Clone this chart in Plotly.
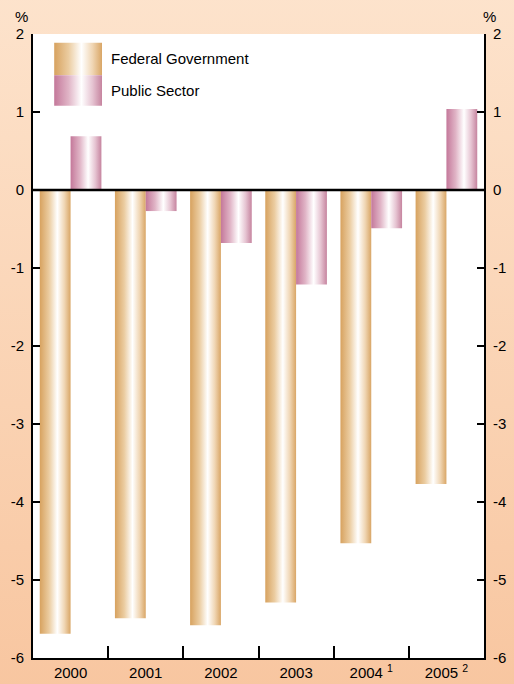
import base64
import plotly.graph_objects as go

# ---- data ----
years = ["2000", "2001", "2002", "2003", "2004 <sup>1</sup>", "2005 <sup>2</sup>"]
federal = [-5.69, -5.49, -5.58, -5.29, -4.53, -3.77]
public = [0.69, -0.27, -0.68, -1.21, -0.49, 1.04]
series_names = ["Federal Government", "Public Sector"]
y_ticks = [-6, -5, -4, -3, -2, -1, 0, 1, 2]
y_ticktext = ["-6", "-5", "-4", "-3", "-2", "-1", "0", "1", "2"]

# ---- styles ----
FONT = "Liberation Sans, Arial, sans-serif"
fed_scale = [[0, "#d7a25f"], [0.3, "#ebcca0"], [0.57, "#ffffff"], [0.8, "#f0d6b4"], [1, "#d9a666"]]
pub_scale = [[0, "#c4789a"], [0.3, "#e0b4c6"], [0.57, "#ffffff"], [0.8, "#e6c4d2"], [1, "#c6849f"]]
BAR_W = 0.41

fig = go.Figure()

def bar_poly(xc0, xc1, v, scale, xa="x", ya="y", y0=0):
    return go.Scatter(
        x=[xc0, xc0, xc1, xc1, xc0], y=[y0, v, v, y0, y0],
        xaxis=xa, yaxis=ya,
        mode="lines", line=dict(width=0), fill="toself",
        fillgradient=dict(type="horizontal", colorscale=scale),
        hoverinfo="skip", showlegend=False,
    )

for i, v in enumerate(federal):
    fig.add_trace(bar_poly(i - BAR_W, i, v, fed_scale))
for i, v in enumerate(public):
    fig.add_trace(bar_poly(i, i + BAR_W, v, pub_scale))

# invisible trace on right axis so it renders
fig.add_trace(go.Scatter(x=[0], y=[0], yaxis="y2", mode="markers",
                         marker=dict(opacity=0), hoverinfo="skip", showlegend=False))

# custom legend boxes (paper-like overlay axes)
leg_x0, leg_x1 = 0.047, 0.153
leg_rows = [(0.934, 0.986), (0.885, 0.934)]
for (yb, yt), sc in zip(leg_rows, [fed_scale, pub_scale]):
    fig.add_trace(go.Scatter(
        x=[leg_x0, leg_x0, leg_x1, leg_x1, leg_x0], y=[yb, yt, yt, yb, yb],
        xaxis="x3", yaxis="y3", mode="lines", line=dict(width=0), fill="toself",
        fillgradient=dict(type="horizontal", colorscale=sc),
        hoverinfo="skip", showlegend=False))

W, H = 514, 684
L, R, T, B = 33, 30, 34, 26
pw, ph = W - L - R, H - T - B

annotations = []
for name, (yb, yt) in zip(series_names, leg_rows):
    annotations.append(dict(text=name, x=0.168, y=(yb + yt) / 2, xref="paper", yref="paper",
                            xanchor="left", yanchor="middle", showarrow=False,
                            font=dict(family=FONT, size=15, color="black")))
annotations.append(dict(text="%", x=-(L - 21) / pw, y=1 + (T - 16) / ph,
                        xref="paper", yref="paper", showarrow=False,
                        xanchor="center", yanchor="middle",
                        font=dict(family=FONT, size=15, color="black")))
annotations.append(dict(text="%", x=1 + (490 - (W - R)) / pw, y=1 + (T - 16) / ph,
                        xref="paper", yref="paper", showarrow=False,
                        xanchor="center", yanchor="middle",
                        font=dict(family=FONT, size=15, color="black")))

# background gradient image
svg = ('<svg xmlns="http://www.w3.org/2000/svg" width="514" height="684" preserveAspectRatio="none">'
       '<defs><linearGradient id="g" x1="0" y1="0" x2="0" y2="1">'
       '<stop offset="0" stop-color="#fde3cc"/><stop offset="1" stop-color="#f8c6a0"/>'
       '</linearGradient></defs><rect width="514" height="684" fill="url(#g)"/></svg>')
src = "data:image/svg+xml;base64," + base64.b64encode(svg.encode()).decode()

fig.update_layout(
    width=W, height=H,
    margin=dict(l=L, r=R, t=T, b=B, pad=0, autoexpand=False),
    paper_bgcolor="#fbd6b6",
    plot_bgcolor="white",
    font=dict(family=FONT, size=15, color="black"),
    showlegend=False,
    images=[dict(source=src, xref="paper", yref="paper",
                 x=-L / pw - 0.01, y=1 + T / ph + 0.01, sizex=W / pw + 0.02, sizey=H / ph + 0.02,
                 xanchor="left", yanchor="top", sizing="stretch", layer="below")],
    shapes=[
        dict(type="rect", xref="paper", yref="paper", x0=0, x1=1, y0=0, y1=1,
             fillcolor="white", line=dict(width=0), layer="below"),
        dict(type="line", xref="paper", yref="y", x0=0, x1=1, y0=0, y1=0,
             line=dict(color="black", width=2.5)),
    ],
    annotations=annotations,
    xaxis=dict(range=[-0.5, 5.5], tickvals=list(range(6)), ticktext=years,
               ticks="", showgrid=False, zeroline=False, automargin=False,
               showline=True, linecolor="black", linewidth=2,
               tickfont=dict(family=FONT, size=15)),
    xaxis2=dict(overlaying="x", range=[-0.5, 5.5], tickvals=[0.5, 1.5, 2.5, 3.5, 4.5],
                ticks="inside", ticklen=12, tickwidth=1.5, tickcolor="black",
                showticklabels=False, showgrid=False, zeroline=False, side="bottom",
                anchor="y", matches="x", automargin=False),
    xaxis3=dict(overlaying="x", range=[0, 1], visible=False, anchor="y3", automargin=False),
    yaxis=dict(range=[-6, 2], tickvals=y_ticks, ticktext=y_ticktext,
               ticks="inside", ticklen=7, tickwidth=1.5,
               tickcolor="black", showgrid=False, zeroline=False, automargin=False,
               showline=True, linecolor="black", linewidth=2,
               tickfont=dict(family=FONT, size=15), ticklabelstandoff=4),
    yaxis2=dict(overlaying="y", side="right", range=[-6, 2], tickvals=y_ticks,
                ticktext=y_ticktext, automargin=False,
                ticks="inside", ticklen=7, tickwidth=1.5, tickcolor="black",
                showgrid=False, zeroline=False, showline=True, linecolor="black",
                linewidth=2, tickfont=dict(family=FONT, size=15), ticklabelstandoff=4),
    yaxis3=dict(overlaying="y", range=[0, 1], visible=False, anchor="x3", automargin=False),
)

# make xaxis2 ticks visible by attaching a trace
fig.add_trace(go.Scatter(x=[0], y=[0], xaxis="x2", mode="markers",
                         marker=dict(opacity=0), hoverinfo="skip", showlegend=False))

fig.write_html("out.html", config={"displayModeBar": False},
               post_script="document.body.style.margin='0px';")
